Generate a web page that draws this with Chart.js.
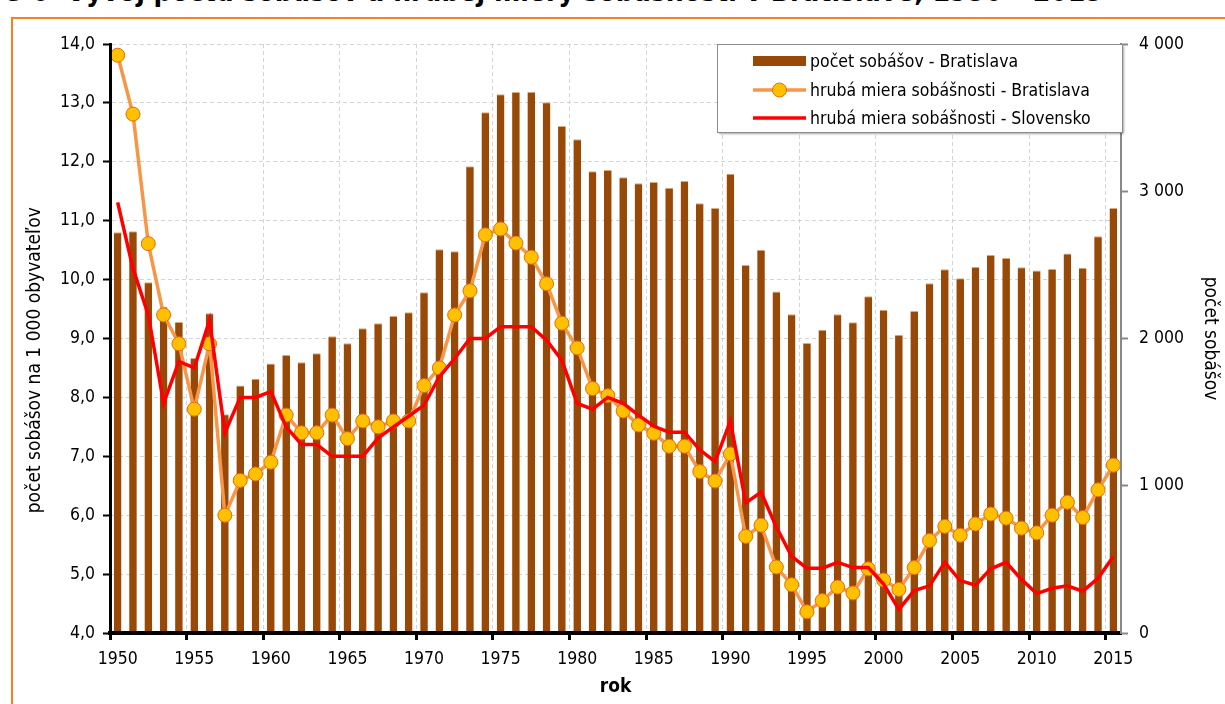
<!DOCTYPE html>
<html><head><meta charset="utf-8">
<script src="https://cdn.jsdelivr.net/npm/chart.js@4.4.1/dist/chart.umd.min.js"></script>
<style>
html,body{margin:0;padding:0;background:#fff;overflow:hidden;width:1225px;height:704px;}
#frame{position:absolute;left:11px;top:17px;width:1300px;height:800px;border:2px solid #F5821F;box-sizing:border-box;}
#title{position:absolute;left:2px;top:-25px;font:bold 28px 'Liberation Sans Narrow','Arial Narrow','DejaVu Sans Condensed',sans-serif;white-space:nowrap;color:#000;}
#wrap{position:absolute;left:0;top:0;width:1225px;height:704px;}
</style></head>
<body>
<div id="title">G 6&nbsp; Vývoj počtu sobášov a hrubej miery sobášnosti v Bratislave, 1950 – 2015</div>
<div id="frame"></div>
<div id="wrap"><canvas id="c" width="1225" height="704"></canvas></div>
<script>
const years = ['1950','1951','1952','1953','1954','1955','1956','1957','1958','1959',
 '1960','1961','1962','1963','1964','1965','1966','1967','1968','1969',
 '1970','1971','1972','1973','1974','1975','1976','1977','1978','1979',
 '1980','1981','1982','1983','1984','1985','1986','1987','1988','1989',
 '1990','1991','1992','1993','1994','1995','1996','1997','1998','1999',
 '2000','2001','2002','2003','2004','2005','2006','2007','2008','2009',
 '2010','2011','2012','2013','2014','2015'];

// počet sobášov - Bratislava (right axis)
const marriagesBA = [2722,2728,2382,2216,2112,1868,2171,1485,1680,1727,
 1831,1888,1838,1899,2015,1967,2069,2103,2153,2178,
 2314,2606,2592,3169,3536,3658,3674,3676,3604,3443,
 3353,3135,3144,3095,3054,3063,3024,3069,2918,2886,
 3119,2499,2603,2320,2164,1969,2060,2164,2110,2287,
 2196,2026,2187,2376,2471,2409,2486,2567,2547,2484,
 2461,2472,2578,2481,2694,2886];

// hrubá miera sobášnosti - Bratislava (left axis)
const rateBA = [13.81,12.81,10.61,9.40,8.91,7.80,8.91,6.00,6.59,6.70,
 6.90,7.70,7.40,7.40,7.70,7.30,7.60,7.50,7.60,7.60,
 8.20,8.50,9.40,9.81,10.76,10.86,10.62,10.38,9.93,9.26,
 8.84,8.15,8.03,7.77,7.53,7.39,7.17,7.17,6.74,6.58,
 7.04,5.64,5.83,5.12,4.82,4.36,4.55,4.78,4.68,5.09,
 4.90,4.74,5.11,5.57,5.81,5.66,5.85,6.02,5.95,5.78,
 5.70,6.00,6.22,5.96,6.43,6.85];

// hrubá miera sobášnosti - Slovensko (left axis)
const rateSK = [11.31,10.19,9.40,7.90,8.61,8.50,9.31,7.40,8.00,8.00,
 8.10,7.50,7.20,7.20,7.00,7.00,7.00,7.31,7.50,7.68,
 7.87,8.35,8.66,9.00,9.00,9.20,9.20,9.20,8.97,8.63,
 7.90,7.80,8.00,7.90,7.70,7.51,7.41,7.41,7.11,6.91,
 7.60,6.21,6.39,5.80,5.30,5.10,5.10,5.20,5.11,5.11,
 4.83,4.40,4.72,4.80,5.20,4.89,4.81,5.09,5.20,4.91,
 4.67,4.76,4.80,4.71,4.93,5.30];

const seriesLabels = ['počet sobášov - Bratislava','hrubá miera sobášnosti - Bratislava','hrubá miera sobášnosti - Slovensko'];
const axisTitles = {left:'počet sobášov na 1 000 obyvateľov', right:'počet sobášov', x:'rok'};

const FONT = "'Liberation Sans Narrow','Arial Narrow','DejaVu Sans Condensed',sans-serif";
Chart.defaults.font.family = FONT;
Chart.defaults.color = '#000';

const legendPlugin = {
  id: 'boxLegend',
  afterDraw(chart) {
    const {ctx, chartArea} = chart;
    const ds = chart.data.datasets;
    const w = 405, h = 88;
    const x0 = chartArea.right - w + 1, y0 = chartArea.top;
    ctx.save();
    ctx.shadowColor = 'rgba(0,0,0,0.35)';
    ctx.shadowOffsetX = 2; ctx.shadowOffsetY = 2; ctx.shadowBlur = 2;
    ctx.fillStyle = '#fff';
    ctx.fillRect(x0, y0, w, h);
    ctx.shadowColor = 'rgba(0,0,0,0)';
    ctx.strokeStyle = '#8c8c8c'; ctx.lineWidth = 1;
    ctx.strokeRect(x0 + 0.5, y0 + 0.5, w, h);
    const rows = [y0 + 17, y0 + 46, y0 + 74];
    const sx0 = x0 + 36, sx1 = x0 + 89, tx = x0 + 93;
    ctx.font = '17.5px ' + FONT;
    ctx.textBaseline = 'middle';
    ctx.fillStyle = ds[0].backgroundColor;
    ctx.fillRect(sx0, rows[0] - 5, sx1 - sx0, 10);
    ctx.strokeStyle = ds[1].borderColor; ctx.lineWidth = ds[1].borderWidth;
    ctx.beginPath(); ctx.moveTo(sx0, rows[1]); ctx.lineTo(sx1, rows[1]); ctx.stroke();
    ctx.beginPath(); ctx.arc((sx0 + sx1) / 2, rows[1], ds[1].pointRadius, 0, Math.PI * 2);
    ctx.fillStyle = ds[1].pointBackgroundColor; ctx.fill();
    ctx.strokeStyle = ds[1].pointBorderColor; ctx.lineWidth = 1; ctx.stroke();
    ctx.strokeStyle = ds[2].borderColor; ctx.lineWidth = ds[2].borderWidth;
    ctx.beginPath(); ctx.moveTo(sx0, rows[2]); ctx.lineTo(sx1, rows[2]); ctx.stroke();
    ctx.fillStyle = '#000';
    ds.forEach((d, i) => ctx.fillText(d.label, tx, rows[i] + 1));
    ctx.restore();
  }
};

const fmtLeft = v => Number(v).toFixed(1).replace('.', ',');
const fmtRight = v => String(v).replace(/\B(?=(\d{3})+(?!\d))/g, ' ');
const NB = '\u00a0';

new Chart(document.getElementById('c'), {
  data: {
    labels: years,
    datasets: [
      { type: 'bar', label: seriesLabels[0], data: marriagesBA, yAxisID: 'y1', order: 3,
        backgroundColor: '#984807', borderColor: '#d9a978',
        borderWidth: {top: 1, left: 0, right: 0, bottom: 0}, borderSkipped: 'bottom',
        barPercentage: 1, categoryPercentage: 0.5 },
      { type: 'line', label: seriesLabels[1], data: rateBA, yAxisID: 'y', order: 2,
        borderColor: '#F79646', borderWidth: 3.5, tension: 0,
        pointRadius: 7, pointHoverRadius: 7, pointBackgroundColor: '#FFC000',
        pointBorderColor: '#E46C0A', pointBorderWidth: 1 },
      { type: 'line', label: seriesLabels[2], data: rateSK, yAxisID: 'y', order: 1,
        borderColor: '#FF0000', borderWidth: 3.5, tension: 0, pointRadius: 0 }
    ]
  },
  options: {
    responsive: false,
    animation: false,
    events: [],
    layout: { padding: { left: 20, top: 44, right: 0, bottom: 0 } },
    plugins: { legend: { display: false }, tooltip: { enabled: false }, title: { display: false } },
    scales: {
      x: {
        type: 'category', offset: true,
        afterFit: s => { s.height = 71; },
        grid: {
          offset: true,
          color: c => (c.index % 5 === 0 && c.index > 0) ? '#d4d4d4' : 'rgba(0,0,0,0)',
          tickColor: c => (c.index % 5 === 0) ? '#000' : 'rgba(0,0,0,0)',
          lineWidth: 1, tickWidth: 3, tickLength: 7
        },
        border: { color: '#000', width: 4, dash: [4, 3], z: 1 },
        ticks: {
          autoSkip: false, maxRotation: 0, padding: 9,
          font: { size: 17.5 },
          callback: function(v, i) { const l = this.getLabelForValue(v); return (Number(l) % 5 === 0) ? l : ''; }
        },
        title: { display: true, text: axisTitles.x, font: { size: 19, weight: 'bold' }, padding: { top: 0, bottom: 6 } }
      },
      y: {
        position: 'left', min: 4, max: 14,
        afterFit: s => { s.width = 90; },
        grid: { color: '#d4d4d4', lineWidth: 1, tickColor: '#000', tickWidth: 2, tickLength: 7 },
        border: { color: '#000', width: 3, dash: [4, 3], z: 1 },
        ticks: { stepSize: 1, padding: 8, font: { size: 17.5 }, callback: v => fmtLeft(v) },
        title: { display: true, text: axisTitles.left + NB.repeat(8), font: { size: 19 }, padding: { top: 4, bottom: 0 } }
      },
      y1: {
        position: 'right', min: 0, max: 4000,
        afterFit: s => { s.width = 104; },
        grid: { drawOnChartArea: false, tickColor: '#888', tickWidth: 2, tickLength: 7 },
        border: { color: '#888', width: 2, z: 1 },
        ticks: { stepSize: 1000, padding: 11, font: { size: 17.5 }, callback: v => fmtRight(v) },
        title: { display: true, text: axisTitles.right, font: { size: 19 }, padding: { top: 4, bottom: 0 } }
      }
    }
  },
  plugins: [legendPlugin]
});
</script>
</body></html>
